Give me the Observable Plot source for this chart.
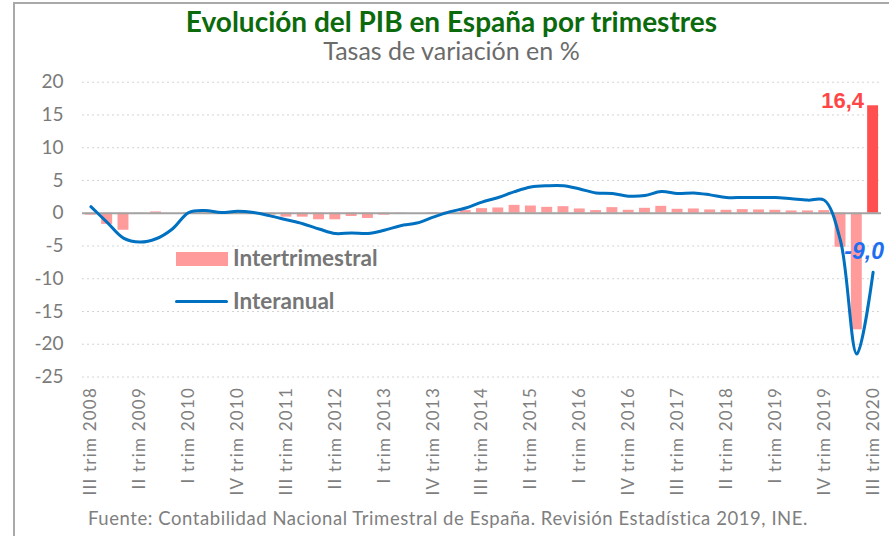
<!DOCTYPE html>
<html><head><meta charset="utf-8">
<script src="https://cdn.jsdelivr.net/npm/d3@7"></script>
<script src="https://cdn.jsdelivr.net/npm/@observablehq/plot@0.6"></script>
<style>
body{margin:0;background:#fff;}
#wrap{position:relative;width:889px;height:536px;overflow:hidden;font-family:Lato,sans-serif;background:#fff;}
#frame{position:absolute;left:13px;top:2px;width:890px;height:560px;border-left:2px solid #a9a9a9;border-top:2px solid #a9a9a9;}
#title{position:absolute;top:4px;left:14px;right:0;text-align:center;font-weight:700;font-size:28px;color:#0b6a0b;white-space:nowrap;}
#subtitle{position:absolute;top:35px;left:14px;right:0;text-align:center;font-size:25px;color:#6b6b6b;white-space:nowrap;}
#chart{position:absolute;top:66px;left:0;}
#footer{position:absolute;top:507px;left:88px;font-size:18.5px;letter-spacing:0.56px;color:#7f7f7f;white-space:nowrap;}
.leg{position:absolute;left:233px;font-weight:700;font-size:22.5px;color:#767676;white-space:nowrap;}
#legbar{position:absolute;left:176px;top:252px;width:52px;height:14px;background:#ff9b9b;}
#legline{position:absolute;left:175px;top:300px;width:53px;height:3px;background:#0070c0;border-radius:2px;}
#chart g[aria-label="x-axis tick label"] text{font-size:17px;letter-spacing:1.2px;fill:#7f7f7f;}
#chart g[aria-label="y-axis tick label"] text{font-size:19px;fill:#7a7a7a;}
</style></head>
<body>
<div id="wrap">
  <div id="frame"></div>
  <div id="title">Evolución del PIB en España por trimestres</div>
  <div id="subtitle">Tasas de variación en %</div>
  <div id="chart"></div>
  <div id="legbar"></div><div class="leg" style="top:244px">Intertrimestral</div>
  <div id="legline"></div><div class="leg" style="top:287px">Interanual</div>
  <div id="footer">Fuente: Contabilidad Nacional Trimestral de España. Revisión Estadística 2019, INE.</div>
</div>
<script>
const quarters = ["III trim 2008","IV trim 2008","I trim 2009","II trim 2009","III trim 2009","IV trim 2009","I trim 2010","II trim 2010","III trim 2010","IV trim 2010","I trim 2011","II trim 2011","III trim 2011","IV trim 2011","I trim 2012","II trim 2012","III trim 2012","IV trim 2012","I trim 2013","II trim 2013","III trim 2013","IV trim 2013","I trim 2014","II trim 2014","III trim 2014","IV trim 2014","I trim 2015","II trim 2015","III trim 2015","IV trim 2015","I trim 2016","II trim 2016","III trim 2016","IV trim 2016","I trim 2017","II trim 2017","III trim 2017","IV trim 2017","I trim 2018","II trim 2018","III trim 2018","IV trim 2018","I trim 2019","II trim 2019","III trim 2019","IV trim 2019","I trim 2020","II trim 2020","III trim 2020"];

const intertrimestral = [-0.3,-1.7,-2.6,-0.1,0.2,0.0,0.1,0.1,0.0,0.1,0.0,-0.3,-0.6,-0.6,-1.0,-1.0,-0.5,-0.8,-0.3,-0.1,0.0,0.1,0.2,0.4,0.7,0.8,1.2,1.1,0.9,1.0,0.65,0.4,0.85,0.45,0.75,1.05,0.6,0.65,0.5,0.45,0.55,0.5,0.45,0.35,0.35,0.4,-5.2,-17.8,16.4];

const interanual = [1.0,-1.4,-3.8,-4.4,-3.9,-2.4,0.1,0.4,0.1,0.3,0.1,-0.4,-1.0,-1.6,-2.4,-3.1,-3.0,-3.1,-2.6,-1.9,-1.5,-0.6,0.2,0.8,1.7,2.4,3.3,4.0,4.2,4.2,3.7,3.1,3.0,2.6,2.7,3.3,3.0,3.1,2.8,2.4,2.4,2.4,2.4,2.2,2.0,2.0,-4.2,-21.5,-9.0];

const tickLabels = ["III trim 2008","II trim 2009","I trim 2010","IV trim 2010","III trim 2011","II trim 2012","I trim 2013","IV trim 2013","III trim 2014","II trim 2015","I trim 2016","IV trim 2016","III trim 2017","II trim 2018","I trim 2019","IV trim 2019","III trim 2020"];
const yTicks = [-25,-20,-15,-10,-5,0,5,10,15,20];

const data = quarters.map((q, i) => ({q, inter: intertrimestral[i], anual: interanual[i], last: i === quarters.length - 1}));
const lastRow = data[data.length - 1];
const fmt = v => v.toFixed(1).replace(".", ",");

const chart = Plot.plot({
  width: 889,
  height: 439,
  marginTop: 15.7,
  marginBottom: 128.5,
  marginLeft: 82,
  marginRight: 8,
  style: {fontFamily: "Lato, sans-serif", background: "transparent"},
  x: {type: "band", domain: quarters, paddingInner: 0.33, paddingOuter: 0.18, round: false, label: null},
  y: {domain: [-25, 20], label: null},
  marks: [
    Plot.ruleY(yTicks.filter(d => d !== 0), {stroke: "#d4d4d4", strokeDasharray: "2,3", strokeWidth: 1}),
    Plot.barY(data, {x: "q", y: "inter", fill: d => d.last ? "#ff4f4f" : "#ff9b9b"}),
    Plot.ruleY([0], {stroke: "#a3a3a3", strokeWidth: 2}),
    Plot.line(data, {x: "q", y: "anual", stroke: "#0070c0", strokeWidth: 3, curve: "catmull-rom"}),
    Plot.text([lastRow], {x: "q", y: "inter", text: d => fmt(d.inter), textAnchor: "end", dx: -9, dy: -5, fill: "#ff4545", fontWeight: "bold", fontSize: 22, fontFamily: "Liberation Sans, Arial, sans-serif"}),
    Plot.text([lastRow], {x: "q", y: "anual", text: d => fmt(d.anual), textAnchor: "middle", dx: -9, dy: -21, fill: "#1e6ff0", fontWeight: "bold", fontStyle: "italic", fontSize: 23, fontFamily: "Liberation Sans, Arial, sans-serif"}),
    Plot.axisY({ticks: yTicks, tickSize: 0, tickPadding: 19, tickFormat: d => String(d), label: null}),
    Plot.axisX({ticks: tickLabels, tickRotate: -90, tickSize: 0, tickPadding: 10, label: null})
  ]
});
document.getElementById("chart").appendChild(chart);
</script>
</body></html>
